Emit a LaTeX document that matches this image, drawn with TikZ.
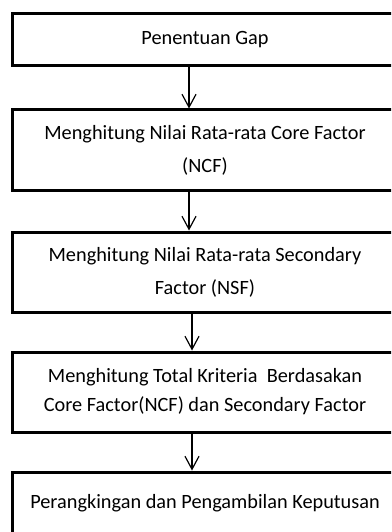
\documentclass[tikz,border=0pt]{standalone}
\usepackage{fontspec}
\setmainfont{Carlito}
\usetikzlibrary{arrows.meta}
\tikzset{
  stepbox/.style={draw, line width=3pt, minimum width=386pt, align=center,
    font=\fontsize{20.3}{33}\selectfont},
  flow/.style={line width=1.2pt, -{Straight Barb[length=13pt,width=14pt,line width=1.2pt]}}
}
\begin{document}
\begin{tikzpicture}[x=1pt,y=1pt]
        % frame of the page crop
        \useasboundingbox (0,0) rectangle (391,-532);
        \clip (0,0) rectangle (391,-532);
        % the five steps
        \node[stepbox, minimum height=52pt] (gap) at (205,-40) {Penentuan Gap};
        \node[stepbox, minimum height=80pt] (ncf) at (205,-150) {Menghitung Nilai Rata-rata Core Factor\\(NCF)};
        \node[stepbox, minimum height=80pt] (nsf) at (205,-272) {Menghitung Nilai Rata-rata Secondary\\Factor (NSF)};
        \node[stepbox, minimum height=80pt, font=\fontsize{20.3}{29}\selectfont] (total) at (205,-392) {Menghitung Total Kriteria\ \ Berdasakan\\Core Factor(NCF) dan Secondary Factor};
        \node[stepbox, minimum height=62pt] (rank) at (205,-503) {Perangkingan dan Pengambilan Keputusan};
        % arrows between them
        \draw[flow] ([xshift=-16pt]gap.south) -- ([xshift=-16pt]ncf.north);
        \draw[flow] ([xshift=-16pt]ncf.south) -- ([xshift=-16pt]nsf.north);
        \draw[flow] ([xshift=-13pt]nsf.south) -- ([xshift=-13pt]total.north);
        \draw[flow] ([xshift=-13pt]total.south) -- ([xshift=-13pt]rank.north);
    \end{tikzpicture}
\end{document}
